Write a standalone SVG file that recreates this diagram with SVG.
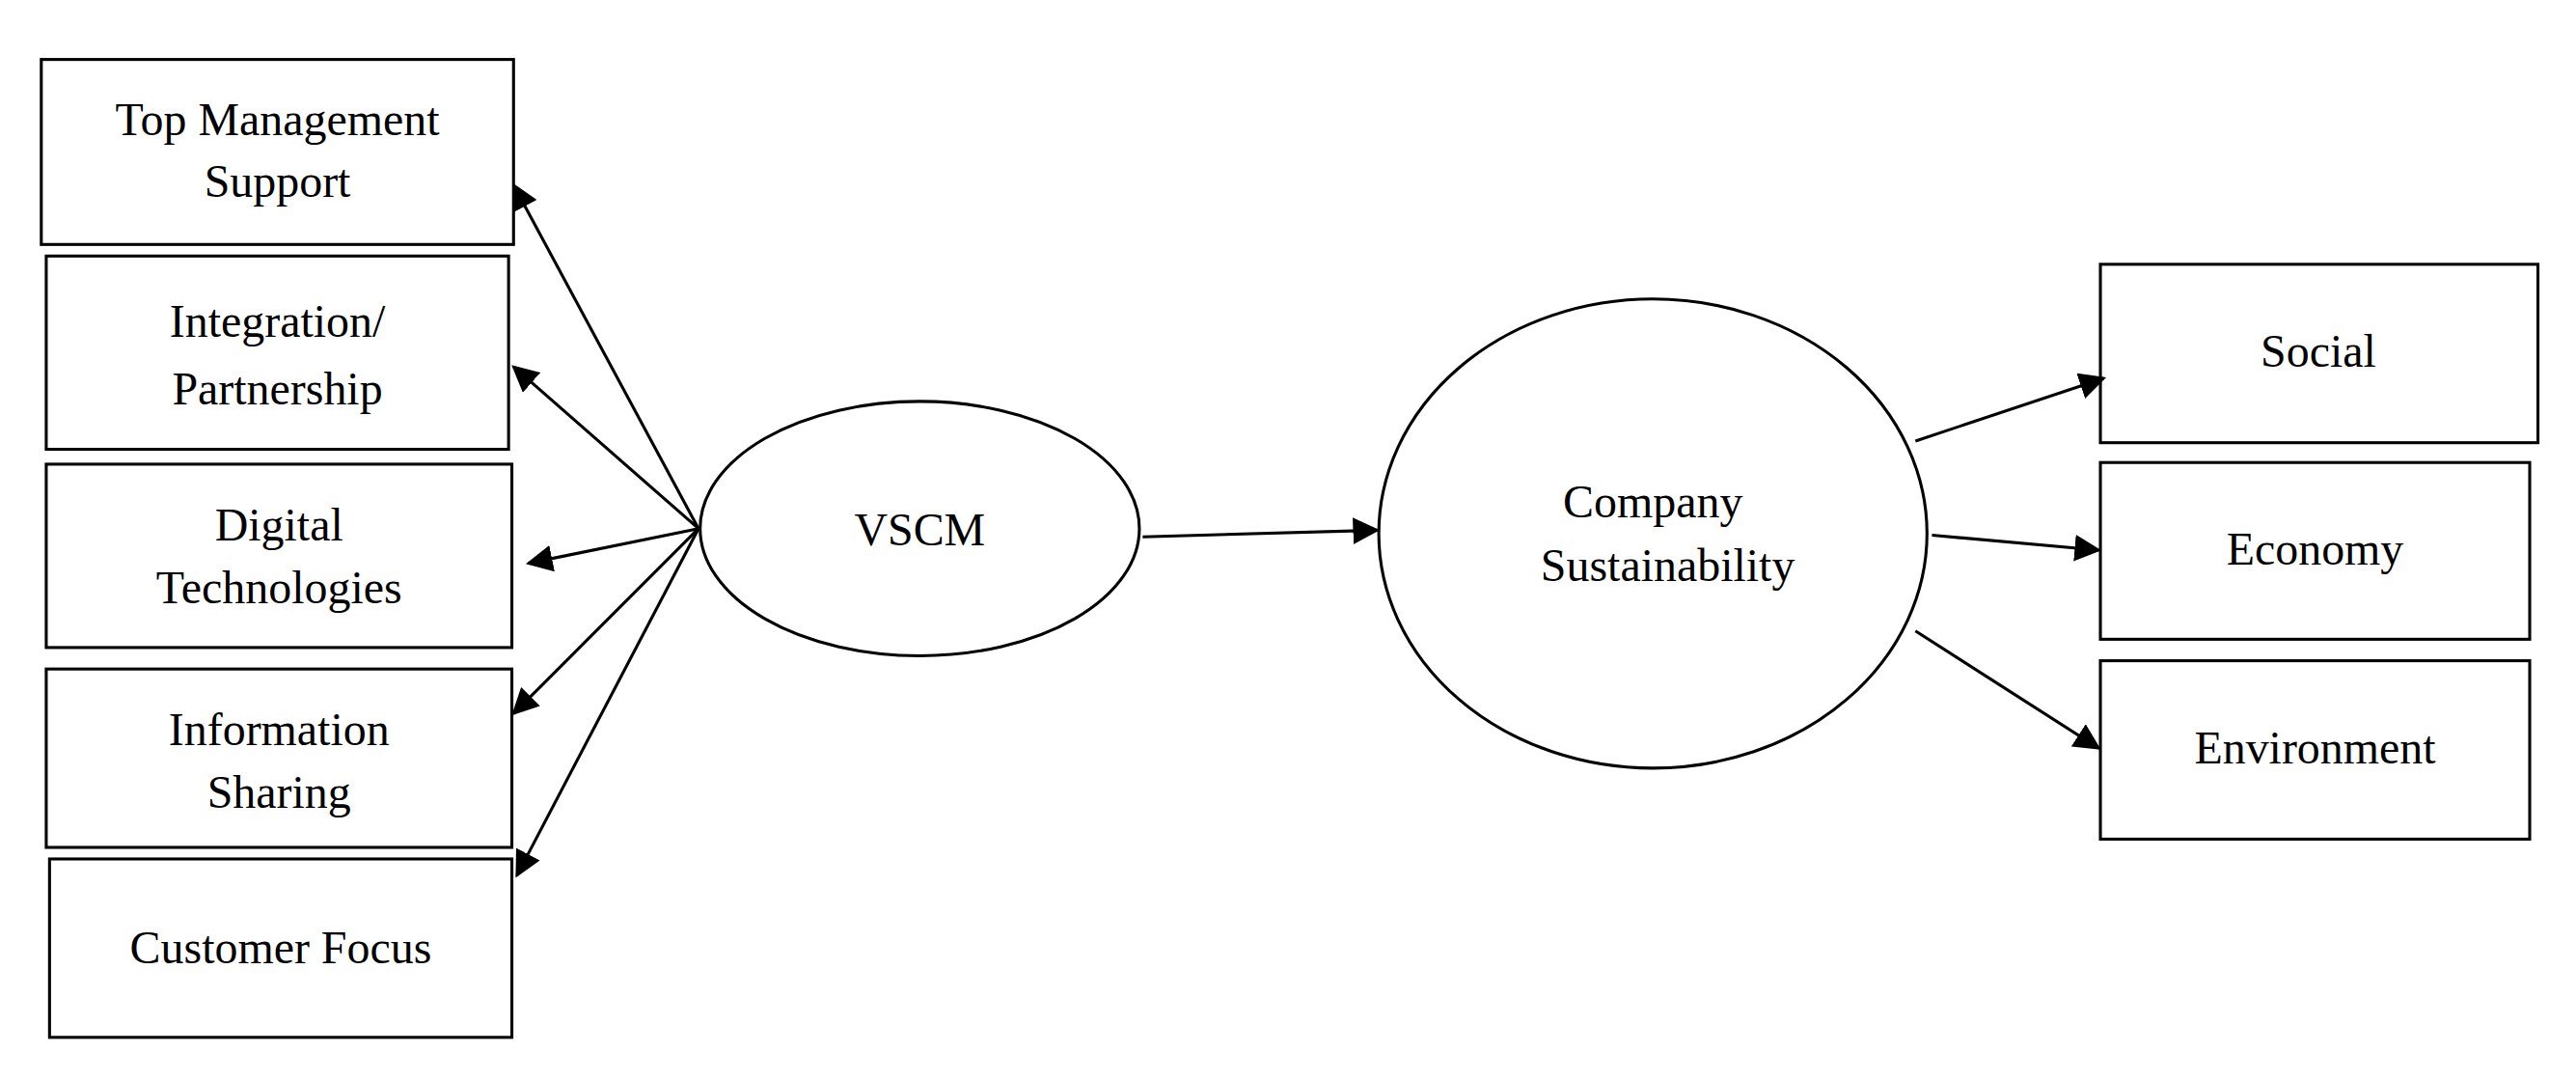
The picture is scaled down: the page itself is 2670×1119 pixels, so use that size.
<svg xmlns="http://www.w3.org/2000/svg" width="2670" height="1119" viewBox="0 0 2670 1119">
<style>
.b{fill:#fff;stroke:#000;stroke-width:1.8}
.t{font-family:"Liberation Serif",serif;font-size:28px;text-anchor:middle;fill:#000}
.c line{stroke:#000;stroke-width:1.8;marker-end:url(#a)}
</style>
<defs><marker id="a" viewBox="0 0 10 10" refX="9" refY="5" markerWidth="9" markerHeight="9" orient="auto" markerUnits="strokeWidth"><path d="M0,0L10,5L0,10z" fill="#000"/></marker></defs>
<rect width="2670" height="1119" fill="#fff"/>
<g transform="scale(1.7115)">
<g id="n1"><rect class="b" x="25" y="36" width="286" height="112"/><text class="t" x="168" y="82">Top Management</text><text class="t" x="168" y="119">Support</text></g>
<g id="n2"><rect class="b" x="28" y="155" width="280" height="117"/><text class="t" x="168" y="204">Integration/</text><text class="t" x="168" y="245">Partnership</text></g>
<g id="n3"><rect class="b" x="28" y="281" width="282" height="111"/><text class="t" x="169" y="327">Digital</text><text class="t" x="169" y="365">Technologies</text></g>
<g id="n4"><rect class="b" x="28" y="405" width="282" height="108"/><text class="t" x="169" y="451">Information</text><text class="t" x="169" y="489">Sharing</text></g>
<g id="n5"><rect class="b" x="30" y="520" width="280" height="108"/><text class="t" x="170" y="583">Customer  Focus</text></g>
<g id="n6"><rect class="b" x="1272" y="160" width="265" height="108"/><text class="t" x="1404" y="222">Social</text></g>
<g id="n7"><rect class="b" x="1272" y="280" width="260" height="107"/><text class="t" x="1402" y="342">Economy</text></g>
<g id="n8"><rect class="b" x="1272" y="400" width="260" height="108"/><text class="t" x="1402" y="462">Environment</text></g>
<g id="vscm"><ellipse class="b" cx="557" cy="320" rx="133" ry="77"/><text class="t" x="557" y="330">VSCM</text></g>
<g id="cs"><ellipse class="b" cx="1001" cy="323" rx="166" ry="142"/><text class="t" x="1001" y="313">Company</text><text class="t" x="1010" y="352">Sustainability</text></g>
<g class="c">
<line x1="423" y1="320" x2="311" y2="112"/>
<line x1="423" y1="320" x2="311" y2="222"/>
<line x1="423" y1="320" x2="320" y2="341"/>
<line x1="423" y1="320" x2="311" y2="432"/>
<line x1="423" y1="320" x2="313" y2="530"/>
<line x1="692" y1="325" x2="834" y2="321"/>
<line x1="1160" y1="267" x2="1274" y2="229"/>
<line x1="1170" y1="324" x2="1271" y2="333"/>
<line x1="1160" y1="382" x2="1271" y2="453"/>
</g>
</g>
</svg>
